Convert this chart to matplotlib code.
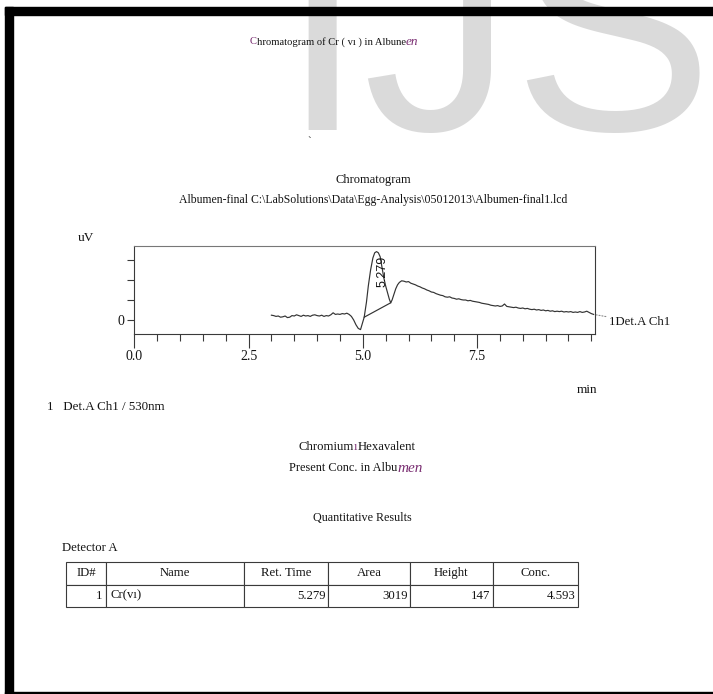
import matplotlib
matplotlib.use('Agg')
import matplotlib.pyplot as plt
from matplotlib.patches import Rectangle
from matplotlib.ticker import MultipleLocator

W, H = 713, 694
SERIF = 'Liberation Serif'
INK = '#141414'
PURPLE = '#7a2e72'

# сигнал детектора (мин, мкВ)
time_min = [3.00, 3.05, 3.10, 3.15, 3.20, 3.25, 3.30, 3.35, 3.40, 3.45,
            3.50, 3.55, 3.60, 3.65, 3.70, 3.75, 3.80, 3.85, 3.90, 3.95,
            4.00, 4.05, 4.10, 4.15, 4.20, 4.25, 4.30, 4.35, 4.40, 4.45,
            4.50, 4.55, 4.60, 4.65, 4.70, 4.75, 4.80, 4.85, 4.90, 4.95,
            5.00, 5.03, 5.08, 5.12, 5.17, 5.22, 5.26, 5.30, 5.34, 5.38,
            5.42, 5.46, 5.50, 5.54, 5.58, 5.61, 5.64, 5.68, 5.72, 5.76,
            5.80, 5.85, 5.90, 5.95, 6.00, 6.05, 6.10, 6.15, 6.20, 6.25,
            6.30, 6.35, 6.40, 6.45, 6.50, 6.55, 6.60, 6.65, 6.70, 6.75,
            6.80, 6.85, 6.90, 6.95, 7.00, 7.05, 7.10, 7.15, 7.20, 7.25,
            7.30, 7.35, 7.40, 7.45, 7.50, 7.55, 7.60, 7.65, 7.70, 7.75,
            7.80, 7.85, 7.90, 7.95, 8.00, 8.05, 8.10, 8.15, 8.20, 8.25,
            8.30, 8.35, 8.40, 8.45, 8.50, 8.55, 8.60, 8.65, 8.70, 8.75,
            8.80, 8.85, 8.90, 8.95, 9.00, 9.05, 9.10, 9.15, 9.20, 9.25,
            9.30, 9.35, 9.40, 9.45, 9.50, 9.55, 9.60, 9.65, 9.70, 9.75,
            9.80, 9.85, 9.90, 9.95, 10.00, 10.05]
signal_uv = [12, 11, 9, 10, 7, 8, 10, 6, 7, 11,
             10, 13, 11, 9, 12, 10, 11, 9, 12, 13,
             11, 10, 12, 9, 11, 10, 13, 18, 14, 15,
             14, 16, 15, 17, 14, 9, 0, -12, -21, -24,
             -5, 7, 45, 85, 125, 155, 168, 171, 168, 158,
             132, 105, 85, 68, 52, 43, 50, 64, 78, 88,
             94, 98, 97, 95, 96, 92, 90, 88, 85, 83,
             80, 78, 75, 73, 70, 69, 66, 64, 62, 61,
             58, 57, 58, 55, 54, 52, 53, 51, 50, 50,
             48, 49, 47, 46, 45, 44, 42, 41, 40, 39,
             37, 36, 35, 36, 34, 35, 40, 34, 33, 32,
             31, 32, 30, 29, 30, 28, 29, 27, 26, 27,
             25, 26, 24, 25, 23, 24, 22, 23, 21, 22,
             21, 22, 20, 21, 20, 21, 19, 20, 19, 21,
             19, 20, 22, 19, 16, 14]

# базовая линия пика
base_t = [5.03, 5.61]
base_uv = [7, 43]
peak_rt = '5.279'

x_major = [0.0, 2.5, 5.0, 7.5]
x_labels = ['0.0', '2.5', '5.0', '7.5']
y_ticks = [0, 50, 100, 150]
y_labels = ['0', '', '', '']

# таблица результатов
col_names = ['ID#', 'Name', 'Ret. Time', 'Area', 'Height', 'Conc.']
row_values = ['1', 'Cr(vı)', '5.279', '3019', '147', '4.593']
col_align = ['right', 'left', 'right', 'right', 'right', 'right']
col_edges = [66, 106, 244, 328, 410, 493, 578]


def fx(x):
    return x / W


def fy(y):
    return 1 - y / H


fig = plt.figure(figsize=(W / 100, H / 100), dpi=100)
fig.patch.set_facecolor('white')

# водяной знак
fig.text(fx(280), fy(130), 'IJS', family='Liberation Sans', fontsize=216,
         color='#dadada', ha='left', va='baseline', zorder=0)

# рамка скана
fig.patches.append(Rectangle((fx(5), fy(15)), 1, 8 / H, transform=fig.transFigure,
                             color='black', zorder=5))
fig.patches.append(Rectangle((fx(5), 0), 8 / W, fy(7), transform=fig.transFigure,
                             color='black', zorder=5))
fig.patches.append(Rectangle((fx(5), 0), 1, 2.5 / H, transform=fig.transFigure,
                             color='black', zorder=5))

renderer = fig.canvas.get_renderer()


def put(x, y, s, size=9, ha='center', color=INK, **kw):
    return fig.text(fx(x), fy(y), s, fontsize=size, ha=ha, va='center',
                    family=SERIF, color=color, zorder=3, **kw)


def put_parts(x, y, parts, size=9, ha='center'):
    objs = []
    for s, color, extra in parts:
        objs.append(fig.text(0, fy(y), s, fontsize=extra.pop('size', size),
                             ha='left', va='center', family=SERIF,
                             color=color, zorder=3, **extra))
    widths = [t.get_window_extent(renderer).width for t in objs]
    start = x - sum(widths) / 2 if ha == 'center' else x
    for t, w in zip(objs, widths):
        t.set_x(fx(start))
        start += w


put_parts(334, 42, [('C', PURPLE, {}),
                    ('hromatogram of Cr ( vı ) in Albune', INK, {}),
                    ('en', PURPLE, {'style': 'italic', 'size': 9.5})], size=7.6)
put(309, 142, '`', size=8)
put(373, 180, 'Chromatogram', size=9)
put(373, 200, r'Albumen-final C:\LabSolutions\Data\Egg-Analysis\05012013\Albumen-final1.lcd',
    size=8.5)
put(86, 238, 'uV', size=9.5)
put(587, 390, 'min', size=9.5)
put(47, 407, '1   Det.A Ch1 / 530nm', size=9.4, ha='left')
put_parts(357, 447, [('Chromium', INK, {}), ('ı', PURPLE, {}),
                     ('Hexavalent', INK, {})], size=9.2)
put_parts(289, 468, [('Present Conc. in Albu', INK, {}),
                     ('men', PURPLE, {'style': 'italic', 'size': 11})],
          size=8.8, ha='left')
put(362, 518, 'Quantitative Results', size=8.7)
put(62, 548, 'Detector A', size=9.2, ha='left')

# хроматограмма
ax = fig.add_axes([fx(134.3), fy(334), (595 - 134.3) / W, (334 - 246) / H])
ax.plot(time_min, signal_uv, color='#333333', lw=0.85)
ax.plot(base_t, base_uv, color='#333333', lw=0.85)
ax.set_xlim(0, 10.08)
ax.set_ylim(-35, 185)
ax.set_xticks(x_major)
ax.set_xticklabels(x_labels, family=SERIF, fontsize=10)
ax.xaxis.set_minor_locator(MultipleLocator(0.5))
ax.set_yticks(y_ticks)
ax.set_yticklabels(y_labels, family=SERIF, fontsize=10)
ax.tick_params(axis='x', which='major', direction='out', length=10, width=0.8,
               pad=1.5, colors='#3a3a3a', labelcolor=INK)
ax.tick_params(axis='x', which='minor', direction='out', length=5, width=0.8,
               colors='#3a3a3a')
ax.tick_params(axis='y', direction='out', length=5, width=0.8, pad=2,
               colors='#3a3a3a', labelcolor=INK)
for side, sp in ax.spines.items():
    sp.set_linewidth(0.8)
    sp.set_color('#777777' if side == 'top' else '#3a3a3a')

ax.text(5.44, 122, peak_rt, rotation=90, ha='center', va='center',
        family='Liberation Sans', fontsize=9, color=INK)
ax.annotate('1Det.A Ch1', xy=(time_min[-1], signal_uv[-1]),
            xytext=(15, -8), textcoords='offset pixels', ha='left', va='center',
            family=SERIF, fontsize=9.2, color=INK, annotation_clip=False,
            arrowprops=dict(arrowstyle='-', linestyle=':', color='#888888',
                            lw=0.8, shrinkA=0, shrinkB=2))

# таблица
tax = fig.add_axes([fx(col_edges[0]), fy(607), (col_edges[-1] - col_edges[0]) / W,
                    (607 - 562) / H])
tax.axis('off')
span = col_edges[-1] - col_edges[0]
widths = [(b - a) / span for a, b in zip(col_edges[:-1], col_edges[1:])]
tbl = tax.table(cellText=[row_values], colLabels=col_names, colWidths=widths,
                cellLoc='right', bbox=[0, 0, 1, 1])
tbl.auto_set_font_size(False)
for (r, c), cell in tbl.get_celld().items():
    cell.set_edgecolor('#3a3a3a')
    cell.set_linewidth(0.8)
    cell.PAD = 0.03 if c != 0 else 0.1
    txt = cell.get_text()
    txt.set_fontfamily(SERIF)
    txt.set_fontsize(9.2)
    txt.set_color(INK)
    if r == 0:
        txt.set_ha('center')
        cell._loc = 'center'
    else:
        txt.set_ha(col_align[c])
        cell._loc = col_align[c]

fig.savefig('out.png', dpi=100, facecolor='white')
